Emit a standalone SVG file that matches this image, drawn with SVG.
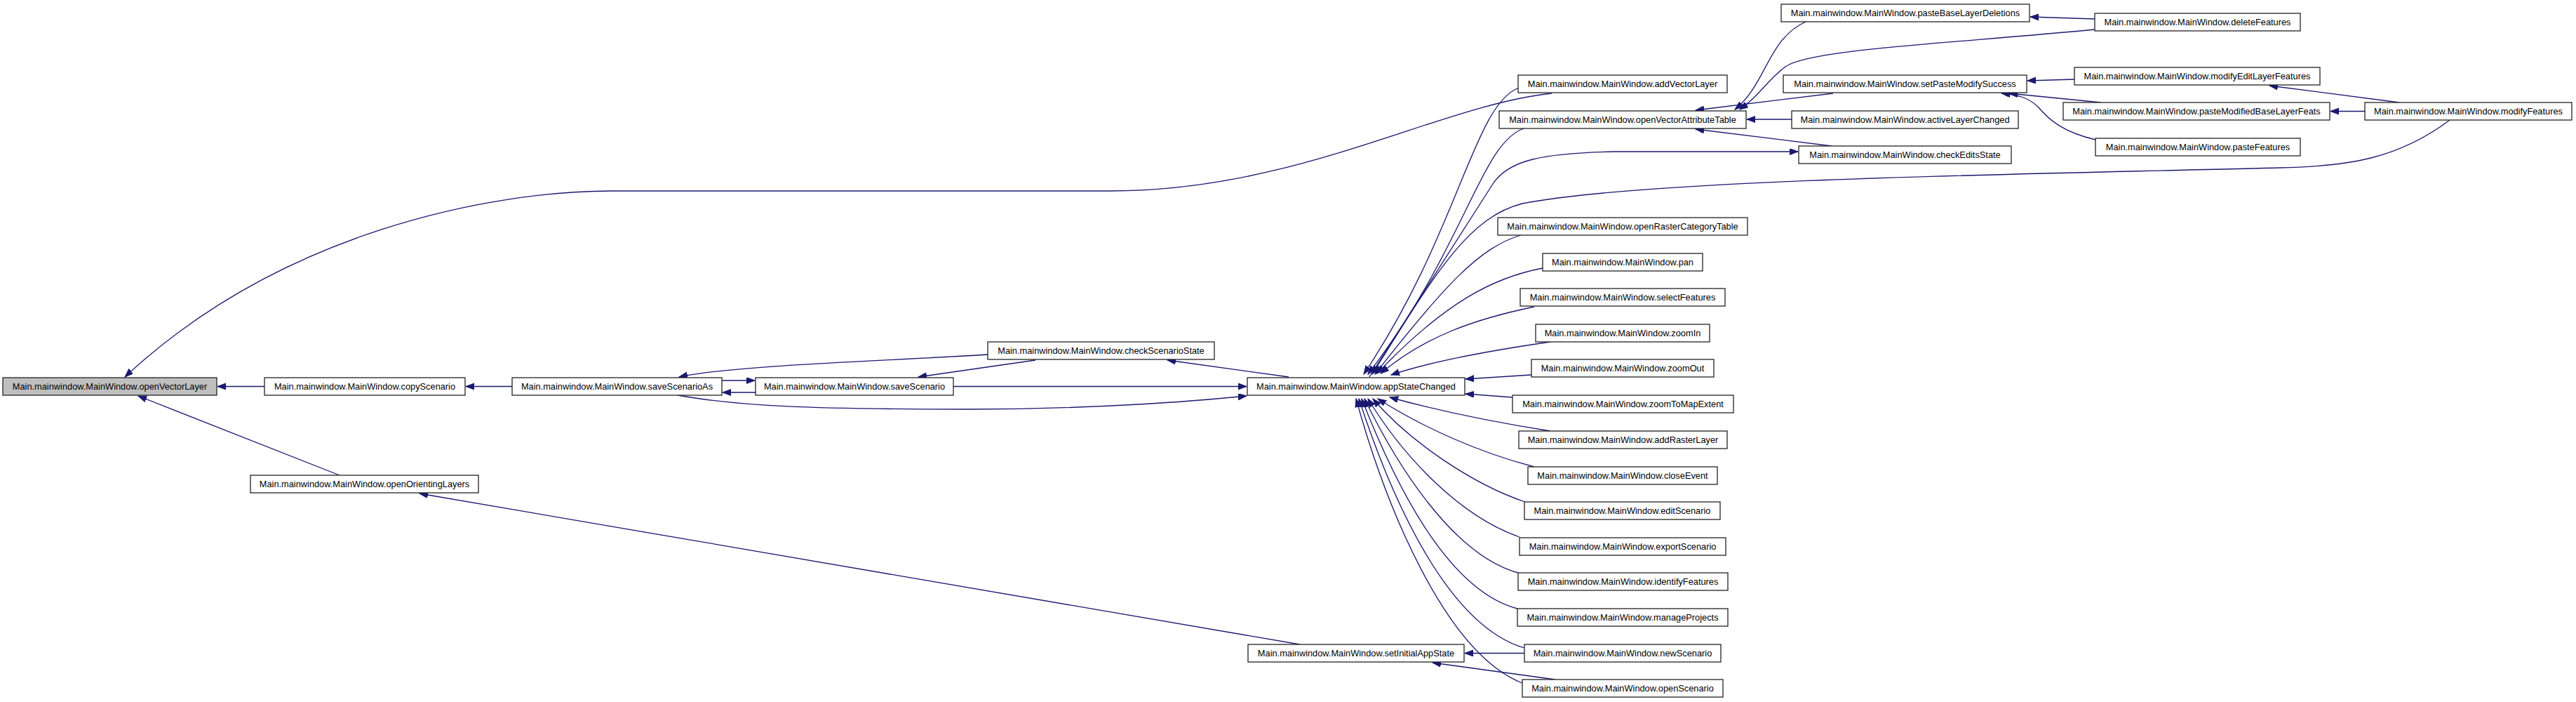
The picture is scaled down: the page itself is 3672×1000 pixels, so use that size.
<svg xmlns="http://www.w3.org/2000/svg" width="3672" height="1000" viewBox="0 0 3672 1000">
<style>
.n rect{fill:#ffffff;stroke:#222;stroke-width:1.3}
.n.hl rect{fill:#bfbfbf}
.n text{font-family:"Liberation Sans",Arial,sans-serif;font-size:12.8px;fill:#000;text-anchor:middle}
.e path{fill:none;stroke:#191970;stroke-width:1.3;marker-end:url(#ah)}
</style>
<defs>
<marker id="ah" markerUnits="userSpaceOnUse" markerWidth="14" markerHeight="10" refX="12" refY="4.5" orient="auto">
<path d="M0,0 L12,4.5 L0,9 z" fill="#191970" stroke="#191970" stroke-width="1"/>
</marker>
</defs>
<rect width="3672" height="1000" fill="#ffffff"/>
<g id="edges" class="e">
<path d="M377,550.5 L310,550.5"/>
<path d="M484,677 L197,564"/>
<path d="M2212,133 C2050,150 1850,272 1583,272 L873,272 C700,272 400,330 178,537"/>
<path d="M730,550.5 L664,550.5"/>
<path d="M1853,918 L598,703"/>
<path d="M1029,542 L1076,542"/>
<path d="M1077,559 L1030,559"/>
<path d="M1409,505 C1250,515 1050,520 968,537"/>
<path d="M1476,513 L1309,537"/>
<path d="M1359,550.5 L1777,550.5"/>
<path d="M966,563 C1050,578 1150,583 1380,583 C1550,583 1700,572 1777,564"/>
<path d="M1837,537 L1664,513"/>
<path d="M2165,125 C2100,150 2080,330 1944,533"/>
<path d="M2172,183 C2110,205 2090,350 1950,533"/>
<path d="M3492,171 C3420,225 3350,237 3250,239 C2900,248 2350,255 2170,290 C2090,310 2040,400 1956,533"/>
<path d="M1952,537 L2128,262 C2150,228 2200,218 2300,216 L2563,216"/>
<path d="M2168,335 C2110,352 2060,405 1960,533"/>
<path d="M2199,382 C2130,395 2060,430 1963,532"/>
<path d="M2187,437 C2100,455 2030,480 1968,532"/>
<path d="M2210,487 C2120,500 2040,515 1983,534"/>
<path d="M2183,534 L2089,540"/>
<path d="M2156,566 L2089,561"/>
<path d="M2210,614 C2120,600 2050,585 1981,566"/>
<path d="M2187,665 C2110,645 2030,610 1964,568"/>
<path d="M2174,715 C2100,690 2010,630 1957,568"/>
<path d="M2166,765 C2080,735 2000,650 1950,568"/>
<path d="M2164,816 C2070,790 1990,660 1945,568"/>
<path d="M2163,867 C2060,840 1985,680 1941,568"/>
<path d="M2173,923 C2060,890 1980,700 1937,568"/>
<path d="M2170,973 C2060,930 1975,720 1933,568"/>
<path d="M2173,930.5 L2088,930.5"/>
<path d="M2217,968 L2042,944"/>
<path d="M2574,31 C2520,55 2518,120 2473,156"/>
<path d="M2986,42 C2780,62 2580,70 2545,95 C2515,118 2510,135 2480,156"/>
<path d="M2613,133 L2417,157"/>
<path d="M2554,170 L2490,170"/>
<path d="M2611,208 L2417,184"/>
<path d="M2986,27 L2894,24"/>
<path d="M2957,113 L2890,115"/>
<path d="M2995,146 L2864,133"/>
<path d="M2987,199 C2940,188 2920,170 2905,152 C2890,138 2875,135 2853,133"/>
<path d="M3420,146 L3235,122"/>
<path d="M3371,158.5 L3322,158.5"/>
</g>
<g id="openVectorLayer" class="n hl"><rect x="4" y="538" width="305" height="25"/><text x="156.5" y="555">Main.mainwindow.MainWindow.openVectorLayer</text></g>
<g id="copyScenario" class="n"><rect x="377" y="538" width="286" height="25"/><text x="520" y="555">Main.mainwindow.MainWindow.copyScenario</text></g>
<g id="openOrientingLayers" class="n"><rect x="357" y="677" width="325" height="25"/><text x="519.5" y="694">Main.mainwindow.MainWindow.openOrientingLayers</text></g>
<g id="saveScenarioAs" class="n"><rect x="730" y="538" width="299" height="25"/><text x="879.5" y="555">Main.mainwindow.MainWindow.saveScenarioAs</text></g>
<g id="saveScenario" class="n"><rect x="1077" y="538" width="282" height="25"/><text x="1218" y="555">Main.mainwindow.MainWindow.saveScenario</text></g>
<g id="checkScenarioState" class="n"><rect x="1408" y="487" width="323" height="25"/><text x="1569.5" y="504">Main.mainwindow.MainWindow.checkScenarioState</text></g>
<g id="appStateChanged" class="n"><rect x="1778" y="538" width="310" height="25"/><text x="1933" y="555">Main.mainwindow.MainWindow.appStateChanged</text></g>
<g id="setInitialAppState" class="n"><rect x="1779" y="918" width="308" height="25"/><text x="1933" y="935">Main.mainwindow.MainWindow.setInitialAppState</text></g>
<g id="addVectorLayer" class="n"><rect x="2164" y="107" width="298" height="25"/><text x="2313" y="124">Main.mainwindow.MainWindow.addVectorLayer</text></g>
<g id="openVectorAttributeTable" class="n"><rect x="2137" y="158" width="352" height="25"/><text x="2313" y="175">Main.mainwindow.MainWindow.openVectorAttributeTable</text></g>
<g id="openRasterCategoryTable" class="n"><rect x="2135" y="310" width="356" height="25"/><text x="2313" y="327">Main.mainwindow.MainWindow.openRasterCategoryTable</text></g>
<g id="pan" class="n"><rect x="2199" y="361" width="228" height="25"/><text x="2313" y="378">Main.mainwindow.MainWindow.pan</text></g>
<g id="selectFeatures" class="n"><rect x="2167" y="411" width="292" height="25"/><text x="2313" y="428">Main.mainwindow.MainWindow.selectFeatures</text></g>
<g id="zoomIn" class="n"><rect x="2189" y="462" width="248" height="25"/><text x="2313" y="479">Main.mainwindow.MainWindow.zoomIn</text></g>
<g id="zoomOut" class="n"><rect x="2183" y="512" width="260" height="25"/><text x="2313" y="529">Main.mainwindow.MainWindow.zoomOut</text></g>
<g id="zoomToMapExtent" class="n"><rect x="2156" y="563" width="315" height="25"/><text x="2313.5" y="580">Main.mainwindow.MainWindow.zoomToMapExtent</text></g>
<g id="addRasterLayer" class="n"><rect x="2165" y="614" width="297" height="25"/><text x="2313.5" y="631">Main.mainwindow.MainWindow.addRasterLayer</text></g>
<g id="closeEvent" class="n"><rect x="2178" y="665" width="270" height="25"/><text x="2313" y="682">Main.mainwindow.MainWindow.closeEvent</text></g>
<g id="editScenario" class="n"><rect x="2173" y="715" width="279" height="25"/><text x="2312.5" y="732">Main.mainwindow.MainWindow.editScenario</text></g>
<g id="exportScenario" class="n"><rect x="2166" y="766" width="294" height="25"/><text x="2313" y="783">Main.mainwindow.MainWindow.exportScenario</text></g>
<g id="identifyFeatures" class="n"><rect x="2164" y="816" width="299" height="25"/><text x="2313.5" y="833">Main.mainwindow.MainWindow.identifyFeatures</text></g>
<g id="manageProjects" class="n"><rect x="2163" y="867" width="300" height="25"/><text x="2313" y="884">Main.mainwindow.MainWindow.manageProjects</text></g>
<g id="newScenario" class="n"><rect x="2173" y="918" width="280" height="25"/><text x="2313" y="935">Main.mainwindow.MainWindow.newScenario</text></g>
<g id="openScenario" class="n"><rect x="2170" y="968" width="286" height="25"/><text x="2313" y="985">Main.mainwindow.MainWindow.openScenario</text></g>
<g id="pasteBaseLayerDeletions" class="n"><rect x="2539" y="6" width="354" height="25"/><text x="2716" y="23">Main.mainwindow.MainWindow.pasteBaseLayerDeletions</text></g>
<g id="setPasteModifySuccess" class="n"><rect x="2542" y="107" width="347" height="25"/><text x="2715.5" y="124">Main.mainwindow.MainWindow.setPasteModifySuccess</text></g>
<g id="activeLayerChanged" class="n"><rect x="2554" y="158" width="323" height="25"/><text x="2715.5" y="175">Main.mainwindow.MainWindow.activeLayerChanged</text></g>
<g id="checkEditsState" class="n"><rect x="2564" y="208" width="303" height="25"/><text x="2715.5" y="225">Main.mainwindow.MainWindow.checkEditsState</text></g>
<g id="deleteFeatures" class="n"><rect x="2986" y="19" width="293" height="25"/><text x="3132.5" y="36">Main.mainwindow.MainWindow.deleteFeatures</text></g>
<g id="modifyEditLayerFeatures" class="n"><rect x="2957" y="96" width="350" height="25"/><text x="3132" y="113">Main.mainwindow.MainWindow.modifyEditLayerFeatures</text></g>
<g id="pasteModifiedBaseLayerFeats" class="n"><rect x="2941" y="146" width="380" height="25"/><text x="3131" y="163">Main.mainwindow.MainWindow.pasteModifiedBaseLayerFeats</text></g>
<g id="pasteFeatures" class="n"><rect x="2987" y="197" width="292" height="25"/><text x="3133" y="214">Main.mainwindow.MainWindow.pasteFeatures</text></g>
<g id="modifyFeatures" class="n"><rect x="3371" y="146" width="295" height="25"/><text x="3518.5" y="163">Main.mainwindow.MainWindow.modifyFeatures</text></g>
</svg>
